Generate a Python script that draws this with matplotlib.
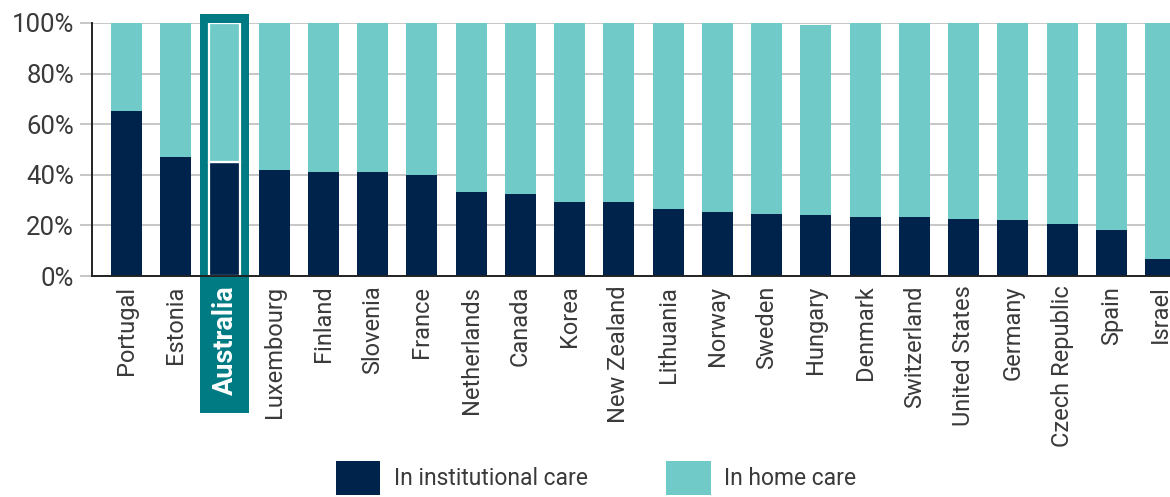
import matplotlib
matplotlib.use("Agg")
import matplotlib.pyplot as plt
from matplotlib.patches import Rectangle, Patch
import numpy as np

countries = ["Portugal", "Estonia", "Australia", "Luxembourg", "Finland", "Slovenia",
             "France", "Netherlands", "Canada", "Korea", "New Zealand", "Lithuania",
             "Norway", "Sweden", "Hungary", "Denmark", "Switzerland", "United States",
             "Germany", "Czech Republic", "Spain", "Israel"]
institutional = [65.1, 47.0, 45.1, 41.8, 41.1, 41.1, 39.9, 33.2, 32.4, 29.2, 29.2, 26.4,
                 25.3, 24.5, 24.1, 23.3, 23.3, 22.5, 22.1, 20.5, 18.2, 6.7]
home = [34.9, 53.0, 54.9, 58.2, 58.9, 58.9, 60.1, 66.8, 67.6, 70.8, 70.8, 73.6,
        74.7, 75.5, 75.2, 76.7, 76.7, 77.5, 77.9, 79.5, 81.8, 93.3]
yticks = [0, 20, 40, 60, 80, 100]
ytick_labels = ["0%", "20%", "40%", "60%", "80%", "100%"]
highlight = "Australia"

NAVY = "#00234b"
TEAL = "#70cbc8"
BOX = "#007b83"
TXT = "#3a3a3a"
GRID = "#c3c3c3"

plt.rcParams['font.family'] = ['Roboto', 'DejaVu Sans']

fig = plt.figure(figsize=(11.7, 4.97), dpi=100)
ax = fig.add_axes([92 / 1170, 1 - 276 / 497, 1 - 92 / 1170, (276 - 23) / 497])

x = np.arange(len(countries))
w = 0.63
hi = countries.index(highlight)

# highlight box behind the bars
ax.add_patch(Rectangle((hi - 0.505, -54.1), 1.0, 54.1 + 103.4, facecolor=BOX,
                       edgecolor='none', clip_on=False, zorder=1.5))

edges = ['white' if c == highlight else 'none' for c in countries]
lws = [1.6 if c == highlight else 0 for c in countries]
ax.bar(x, institutional, width=w, color=NAVY, edgecolor=edges, linewidth=lws, zorder=3)
ax.bar(x, home, bottom=institutional, width=w, color=TEAL, edgecolor=edges,
       linewidth=lws, zorder=3)

ax.set_xlim(-0.70, 21.19)
ax.set_ylim(0, 100)
ax.set_yticks(yticks)
ax.set_yticklabels(ytick_labels)
ax.yaxis.grid(True, color=GRID, linewidth=1.3, zorder=0)
ax.set_axisbelow(True)
ax.tick_params(axis='y', length=9, width=1.3, color=GRID, pad=4, labelsize=18.5,
               labelcolor=TXT)
ax.set_xticks(x)
ax.set_xticklabels([c if c != highlight else "" for c in countries], rotation=90)
ax.tick_params(axis='x', length=0, pad=7, labelsize=17, labelcolor=TXT)

# highlighted label drawn above the box
ax.annotate(highlight, xy=(hi, 0), xycoords=('data', 'axes fraction'),
            xytext=(0, -7), textcoords='offset points', rotation=90,
            ha='center', va='top', fontsize=19.5, fontweight='bold', color='white',
            zorder=6, annotation_clip=False)

for s in ['top', 'right']:
    ax.spines[s].set_visible(False)
for s in ['left', 'bottom']:
    ax.spines[s].set_color('#222222')
    ax.spines[s].set_linewidth(1.4)
    ax.spines[s].set_zorder(4)

handles = [Patch(facecolor=NAVY, edgecolor='none', label="In institutional care"),
           Patch(facecolor=TEAL, edgecolor='none', label="In home care")]
fig.legend(handles=handles, loc='center', bbox_to_anchor=(596 / 1170, 1 - 478 / 497),
           ncol=2, frameon=False, fontsize=16.5, labelcolor=TXT, handlelength=1.95,
           handleheight=1.95, handletextpad=0.6, columnspacing=3.4, borderpad=0)

fig.savefig("out.png", dpi=100)
